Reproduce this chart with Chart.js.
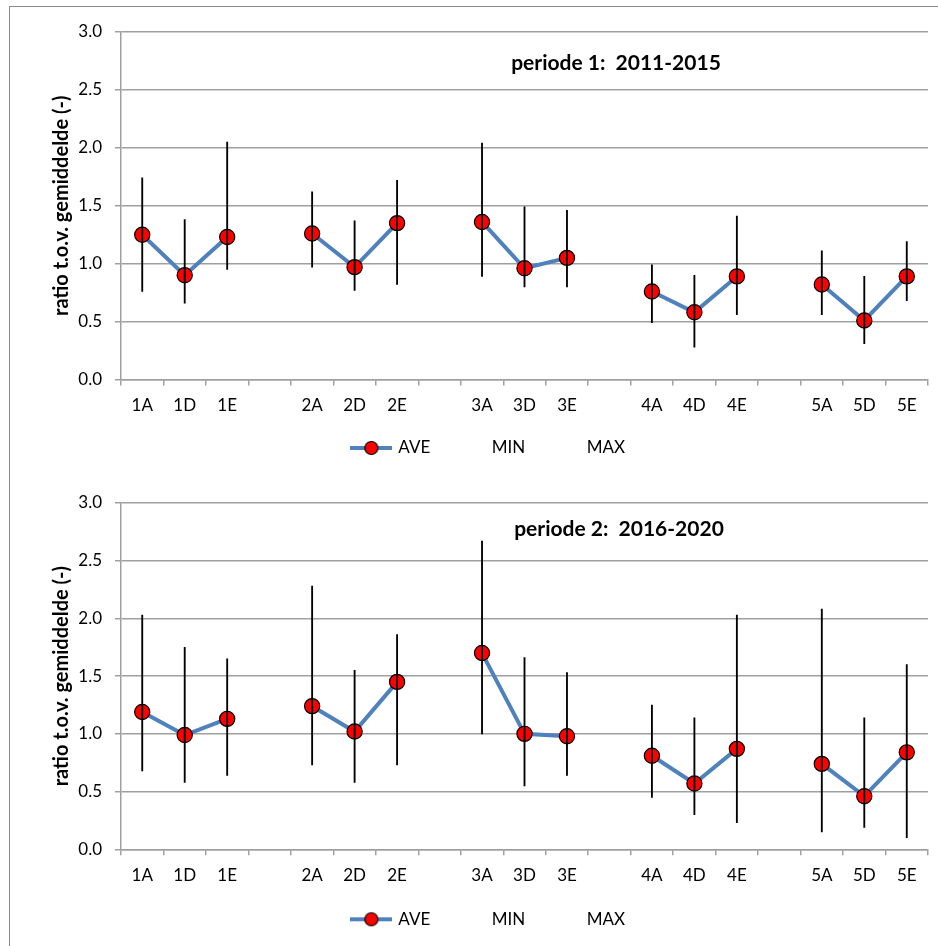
<!DOCTYPE html>
<html>
<head>
<meta charset="utf-8">
<script src="https://cdn.jsdelivr.net/npm/chart.js@4/dist/chart.umd.min.js"></script>
<style>
  html, body { margin: 0; padding: 0; background: #fff; }
  #wrap { position: relative; width: 938px; height: 946px; overflow: hidden; }
  #frame { position: absolute; left: 9px; top: 6px; width: 1000px; height: 1000px;
           border-left: 1.5px solid #8a8a8a; border-top: 1.5px solid #8a8a8a; }
  canvas { position: absolute; left: 0; }
  #c1 { top: 0; }
  #c2 { top: 470px; }
</style>
</head>
<body>
<div id="wrap">
  <div id="frame"></div>
  <canvas id="c1" width="938" height="470"></canvas>
  <canvas id="c2" width="938" height="476"></canvas>
</div>
<script>
// ---- data ----
const categories = ['1A','1D','1E','','2A','2D','2E','','3A','3D','3E','','4A','4D','4E','','5A','5D','5E'];
const yTicks = [0, 0.5, 1.0, 1.5, 2.0, 2.5, 3.0];
const seriesNames = ['AVE', 'MIN', 'MAX'];

const p1Title = 'periode 1:  2011-2015';
const p1Ave = [1.25, 0.90, 1.23, null, 1.26, 0.97, 1.35, null, 1.36, 0.96, 1.05, null, 0.76, 0.58, 0.89, null, 0.82, 0.51, 0.89];
const p1Min = [0.76, 0.66, 0.95, null, 0.97, 0.77, 0.82, null, 0.89, 0.80, 0.80, null, 0.49, 0.28, 0.56, null, 0.56, 0.31, 0.68];
const p1Max = [1.74, 1.38, 2.05, null, 1.62, 1.37, 1.72, null, 2.04, 1.49, 1.46, null, 0.99, 0.90, 1.41, null, 1.11, 0.89, 1.19];

const p2Title = 'periode 2:  2016-2020';
const p2Ave = [1.19, 0.99, 1.13, null, 1.24, 1.02, 1.45, null, 1.70, 1.00, 0.98, null, 0.81, 0.57, 0.87, null, 0.74, 0.46, 0.84];
const p2Min = [0.68, 0.58, 0.64, null, 0.73, 0.58, 0.73, null, 1.00, 0.55, 0.64, null, 0.45, 0.30, 0.23, null, 0.15, 0.19, 0.10];
const p2Max = [2.03, 1.75, 1.65, null, 2.28, 1.55, 1.86, null, 2.67, 1.66, 1.53, null, 1.25, 1.14, 2.03, null, 2.08, 1.14, 1.60];

// ---- styling ----
const FONT = 'Lato';
const GRID = '#a0a0a0';
const LINE_BLUE = '#4f81bd';

function legendKey(withMarker) {
  const c = document.createElement('canvas');
  c.width = 42; c.height = 18;
  const g = c.getContext('2d');
  if (withMarker) {
    g.strokeStyle = LINE_BLUE; g.lineWidth = 4;
    g.beginPath(); g.moveTo(0, 9); g.lineTo(42, 9); g.stroke();
    g.fillStyle = '#ff0000'; g.strokeStyle = '#000'; g.lineWidth = 1.2;
    g.beginPath(); g.arc(21, 9, 6.5, 0, Math.PI * 2); g.fill(); g.stroke();
  }
  return c;
}
const keys = [legendKey(true), legendKey(false), legendKey(false)];

function makeChart(id, title, ave, mn, mx, lay) {
  const panelPlugin = {
    id: 'panelTitle',
    afterLayout(chart) {
      chart.legend.left += lay.legendShift;
      chart.legend.right += lay.legendShift;
    },
    afterDraw(chart) {
      const ctx = chart.ctx, a = chart.chartArea;
      ctx.save();
      ctx.font = 'bold 21px ' + FONT;
      ctx.fillStyle = '#000';
      ctx.textAlign = 'center';
      ctx.textBaseline = 'middle';
      ctx.fillText(title, lay.titleX, a.top + lay.titleDy);
      ctx.restore();
    }
  };
  return new Chart(document.getElementById(id), {
    type: 'line',
    data: {
      labels: categories,
      datasets: [
        {
          label: seriesNames[0], data: ave, order: 1,
          borderColor: LINE_BLUE, borderWidth: 4, spanGaps: false,
          pointRadius: 7.6, pointBackgroundColor: '#ff0000',
          pointBorderColor: '#000', pointBorderWidth: 1.2, tension: 0
        },
        { label: seriesNames[1], data: mn, showLine: false, pointRadius: 0, order: 3 },
        { label: seriesNames[2], data: mx, showLine: false, pointRadius: 0, order: 3 },
        {
          type: 'bar', label: 'range', order: 0,
          data: mn.map((m, i) => (m == null || mx[i] == null) ? null : [m, mx[i]]),
          backgroundColor: '#000', borderWidth: 0, barThickness: 1.2
        }
      ]
    },
    options: {
      responsive: false, animation: false,
      layout: { padding: { left: 40, right: 10, top: lay.top, bottom: lay.bottom } },
      plugins: {
        tooltip: { enabled: false },
        title: { display: false },
        legend: {
          position: 'bottom', align: 'center',
          labels: {
            usePointStyle: true, pointStyleWidth: 37, padding: 16,
            color: '#000', font: { family: FONT, size: 17 },
            generateLabels: (chart) => [0, 1, 2].map(i => ({
              text: chart.data.datasets[i].label,
              pointStyle: keys[i], fillStyle: 'transparent', strokeStyle: 'transparent',
              lineWidth: 0, hidden: false, datasetIndex: i, fontColor: '#000'
            }))
          }
        }
      },
      scales: {
        x: {
          type: 'category', offset: true,
          grid: { offset: true, drawOnChartArea: false, drawTicks: true, tickLength: 6, color: GRID, lineWidth: 1.5 },
          border: { display: true, color: GRID, width: 1.5 },
          ticks: { color: '#000', font: { family: FONT, size: 17 }, padding: 10, maxRotation: 0, autoSkip: false },
          afterFit: (s) => { s.height = lay.xh; }
        },
        y: {
          min: 0, max: 3,
          afterBuildTicks: (s) => { s.ticks = yTicks.map(v => ({ value: v })); },
          grid: { color: GRID, lineWidth: 1.5, tickLength: 6, drawTicks: true },
          border: { display: true, color: GRID, width: 1.5 },
          ticks: { color: '#000', font: { family: FONT, size: 17 }, padding: 13, callback: (v) => Number(v).toFixed(1) },
          title: {
            display: true, text: 'ratio t.o.v. gemiddelde (-)', color: '#000',
            font: { family: FONT, size: 20, weight: 'bold' }, padding: { top: 10, bottom: 0 }
          },
          afterFit: (s) => { s.width = 81; }
        }
      }
    },
    plugins: [panelPlugin]
  });
}

makeChart('c1', p1Title, p1Ave, p1Min, p1Max, { top: 32, bottom: 3.5, xh: 44, titleX: 616, titleDy: 31, legendShift: 5 });
makeChart('c2', p2Title, p2Ave, p2Min, p2Max, { top: 33, bottom: 8.2, xh: 45.5, titleX: 619, titleDy: 26, legendShift: 5 });
</script>
</body>
</html>
